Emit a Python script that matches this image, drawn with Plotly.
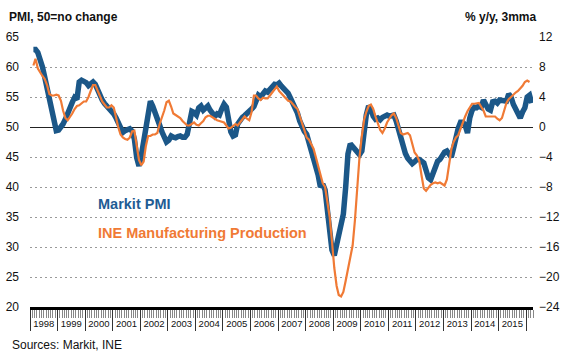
import pandas as pd
import plotly.graph_objects as go

# Markit Spain manufacturing PMI (left axis), monthly from Jan 1998
pmi_start = "1998-01-15"
pmi = [
    62.9, 62.9, 62.4, 61.4, 60.0, 58.3, 56.6, 54.9, 53.5, 51.3, 49.4, 49.5,   # 1998
    49.9, 50.5, 51.3, 52.4, 53.3, 54.1, 54.9, 54.6, 57.5, 57.8, 57.6, 57.4,   # 1999
    56.9, 57.2, 57.5, 57.1, 56.1, 55.2, 54.5, 53.9, 53.5, 53.0, 52.7, 52.2,   # 2000
    51.5, 50.8, 49.8, 49.1, 49.4, 49.5, 49.7, 49.3, 48.0, 44.9, 43.5, 45.2,   # 2001
    47.4, 49.4, 52.7, 54.3, 53.5, 52.2, 51.3, 50.3, 49.2, 48.1, 47.5, 47.8,   # 2002
    48.5, 48.3, 48.2, 48.4, 48.5, 48.3, 48.3, 48.8, 50.5, 52.6, 52.4, 52.0,   # 2003
    53.2, 53.5, 52.8, 53.2, 53.5, 52.8, 52.3, 51.8, 52.2, 52.0, 53.0, 53.8,   # 2004
    53.3, 50.5, 49.2, 48.5, 48.7, 50.5, 51.2, 51.6, 51.9, 52.2, 52.6, 53.0,   # 2005
    53.4, 54.5, 55.3, 55.0, 55.5, 56.0, 55.8, 56.3, 56.9, 57.1, 57.0, 57.3,   # 2006
    56.8, 56.5, 56.0, 55.6, 54.8, 54.0, 53.3, 52.3, 51.0, 49.8, 49.3, 48.8,   # 2007
    47.4, 46.6, 45.5, 43.8, 42.0, 40.0, 40.5, 39.5, 36.0, 32.5, 29.5, 28.6,   # 2008
    30.5, 31.5, 33.0, 35.5, 40.0, 45.5, 47.2, 46.8, 46.3, 45.8, 45.4, 46.0,   # 2009
    49.5, 52.0, 53.5, 53.0, 51.8, 51.3, 51.5, 51.2, 51.6, 51.8, 52.0, 51.8,   # 2010
    52.0, 52.0, 51.0, 49.6, 48.3, 47.0, 45.6, 44.8, 44.2, 43.9, 44.2, 44.6,   # 2011
    44.6, 44.4, 44.0, 42.8, 41.5, 41.2, 42.5, 43.8, 44.3, 44.6, 45.2, 45.8,   # 2012
    46.0, 45.5, 45.0, 46.5, 48.5, 49.8, 50.8, 50.8, 50.3, 49.0, 51.5, 52.8,   # 2013
    53.3, 53.2, 53.5, 53.3, 54.5, 53.8, 53.0, 52.8, 54.2, 54.3, 54.0, 54.5,   # 2014
    54.4, 54.3, 54.3, 55.5, 55.0, 53.8, 53.0, 52.0, 51.5, 52.5, 53.2, 55.0,   # 2015
    55.3, 54.0,                                                               # 2016
]

# INE manufacturing production, % y/y 3mma (right axis), monthly from Jan 1998
ine_start = "1998-01-15"
ine = [
    8.2, 9.1, 7.8, 7.2, 6.8, 6.4, 5.6, 4.4, 4.2, 4.2, 4.3, 4.2,              # 1998
    3.5, 2.2, 1.2, 0.9, 1.3, 1.8, 2.4, 2.8, 2.9, 3.2, 3.4, 3.4,              # 1999
    4.0, 4.8, 5.6, 5.6, 4.8, 4.0, 3.4, 3.0, 2.6, 2.6, 2.9, 2.6,              # 2000
    1.2, 0.0, -1.0, -1.4, -1.6, -1.7, -1.4, -0.6, -0.5, -2.2, -4.4, -5.1,    # 2001
    -4.6, -2.6, -1.2, -1.2, -1.0, -1.0, -0.8, 0.4, 1.2, 2.2, 3.3, 3.5,       # 2002
    2.7, 1.8, 1.6, 1.4, 1.2, 0.8, 0.5, 0.2, 0.2, 0.4, 0.6, 0.3,              # 2003
    0.2, 0.5, 0.8, 1.3, 1.5, 1.5, 1.3, 1.0, 0.9, 0.8, 0.7, 0.6,              # 2004
    0.2, -0.2, -0.1, 0.2, 0.4, 0.2, 0.6, 1.0, 1.4, 1.1, 0.9, 2.0,            # 2005
    4.2, 4.2, 3.8, 3.6, 3.9, 3.8, 3.8, 4.2, 4.6, 5.1, 5.4, 4.8,              # 2006
    4.5, 4.1, 3.8, 3.5, 3.4, 3.0, 2.7, 2.4, 1.6, 0.5, -0.4, -1.4,            # 2007
    -1.7, -2.2, -2.9, -4.0, -5.2, -6.4, -7.5, -8.0, -9.8, -12.0, -15.2, -18.8,  # 2008
    -21.2, -22.4, -22.6, -22.0, -20.5, -18.8, -17.0, -15.8, -12.5, -8.0, -4.0, -1.2,  # 2009
    1.0, 2.0, 2.8, 3.0, 2.4, 1.4, 0.4, -0.4, -0.8, -0.2, 0.6, 1.2,           # 2010
    1.6, 1.8, 1.2, 0.2, -0.8, -1.0, -0.9, -0.8, -1.1, -2.5, -3.4, -3.8,      # 2011
    -4.5, -6.4, -8.2, -8.5, -8.0, -7.7, -7.5, -7.4, -7.5, -7.4, -7.6, -7.8,  # 2012
    -7.0, -5.0, -3.0, -2.0, -1.4, -1.1, -0.2, 0.4, 1.4, 2.1, 2.6, 3.1,       # 2013
    3.1, 3.1, 3.2, 2.7, 2.2, 1.4, 1.4, 1.4, 1.3, 1.4, 1.1, 0.9,              # 2014
    1.2, 2.2, 3.2, 3.7, 4.0, 4.4, 4.6, 4.8, 5.1, 5.5, 6.0, 6.2,              # 2015
    6.0,                                                                     # 2016
]

left_ticks = [20, 25, 30, 35, 40, 45, 50, 55, 60, 65]
right_ticks = [-24, -20, -16, -12, -8, -4, 0, 4, 8, 12]

pmi_dates = pd.date_range(pmi_start, periods=len(pmi), freq="MS") + pd.Timedelta(days=14)
ine_dates = pd.date_range(ine_start, periods=len(ine), freq="MS") + pd.Timedelta(days=14)

BLUE = "#1B5788"
ORANGE = "#F07A35"
FONT = "Liberation Sans, Arial, sans-serif"

W, H = 581, 356
L, R, T, B = 30, 48, 37, 49

fig = go.Figure()
fig.add_trace(go.Scatter(x=pmi_dates, y=pmi, mode="lines", name="Markit PMI",
                         line=dict(color=BLUE, width=5.5), yaxis="y"))
fig.add_trace(go.Scatter(x=ine_dates, y=ine, mode="lines", name="INE Manufacturing Production",
                         line=dict(color=ORANGE, width=2.2), yaxis="y2"))


def ann(text, px, py, size, color, xanchor="left"):
    return dict(text=text, x=(px - L) / (W - L - R), y=(H - B - py) / (H - T - B),
                xref="paper", yref="paper", showarrow=False,
                xanchor=xanchor, yanchor="middle",
                font=dict(size=size, color=color, family=FONT))


fig.update_layout(
    width=W, height=H,
    margin=dict(l=L, r=R, t=T, b=B, autoexpand=False),
    paper_bgcolor="white", plot_bgcolor="white",
    showlegend=False,
    font=dict(family=FONT, color="#111111"),
    xaxis=dict(
        type="date", automargin=False,
        range=["1998-01-01", "2016-04-01"],
        showgrid=False, zeroline=False,
        showline=True, linecolor="black", linewidth=2.5,
        ticks="outside", ticklen=21, tickwidth=1, tickcolor="#333333",
        dtick="M12", tick0="1998-01-01", ticklabelmode="period",
        tickformat="%Y", tickfont=dict(size=9.5, color="#111111"),
        ticklabelstandoff=-15,
        minor=dict(dtick="M1", ticks="outside", ticklen=8, tickwidth=1, tickcolor="#888888"),
    ),
    yaxis=dict(
        range=[20, 65], tickvals=left_ticks, ticks="", automargin=False,
        showgrid=True, gridcolor="#9a9a9a", gridwidth=1, griddash="1.5px,3.5px",
        zeroline=False, showline=False,
        tickfont=dict(size=12, color="#111111"), ticklabelstandoff=10,
    ),
    yaxis2=dict(
        range=[-24, 12], tickvals=right_ticks, ticks="", automargin=False,
        overlaying="y", side="right",
        showgrid=False, zeroline=True, zerolinecolor="#222222", zerolinewidth=1,
        showline=False,
        tickfont=dict(size=12, color="#111111"), ticklabelstandoff=5,
    ),
    annotations=[
        ann("<b>PMI, 50=no change</b>", 7, 17, 12, "#111111"),
        ann("<b>% y/y, 3mma</b>", 538, 17, 12, "#111111", xanchor="right"),
        ann("<b>Markit PMI</b>", 96, 204, 14.5, "#1F5C94"),
        ann("<b>INE Manufacturing Production</b>", 96, 233, 14.5, ORANGE),
        ann("Sources: Markit, INE", 10, 345, 12, "#111111"),
    ],
)

fig.write_html("out.html", config={"displayModeBar": False},
               post_script="document.body.style.margin='0px';")
